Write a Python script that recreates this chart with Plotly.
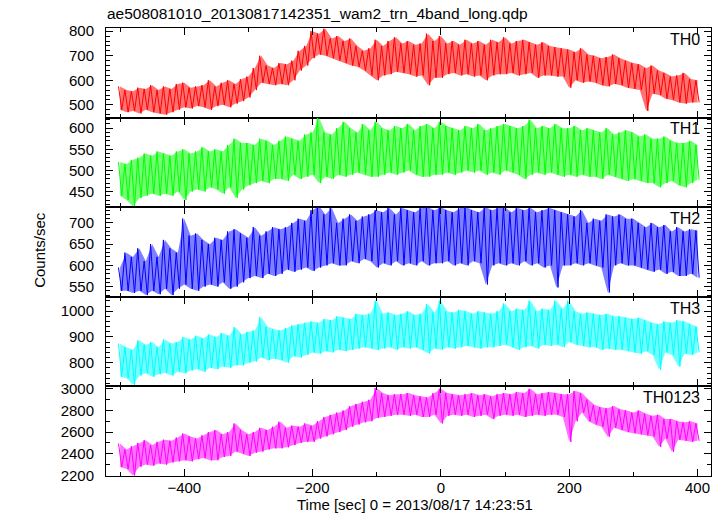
import plotly.graph_objects as go
from plotly.subplots import make_subplots

# ---- data (10-s bins, upper / lower excursion of each bin) ----
time_s = list(range(-500, 401, 10))

th0_hi = [575, 560, 555, 570, 565, 580, 560, 575, 565, 585,
          590, 570, 575, 580, 600, 575, 590, 600, 585, 605,
          615, 650, 700, 660, 650, 670, 665, 680, 720, 740,
          800, 790, 810, 770, 780, 760, 770, 740, 720, 730,
          765, 740, 760, 775, 750, 760, 745, 750, 790, 760,
          780, 750, 760, 745, 765, 750, 760, 745, 765, 755,
          775, 750, 760, 765, 755, 745, 755, 740, 735, 730,
          725, 715, 730, 705, 700, 690, 695, 705, 690, 680,
          670, 665, 650, 660, 640, 630, 615, 620, 630, 605,
          600]
th0_lo = [480, 470, 475, 465, 480, 470, 465, 460, 470, 480,
          490, 485, 495, 490, 480, 495, 500, 490, 505, 515,
          530, 560, 590, 585, 580, 585, 580, 600, 640, 660,
          690, 705, 700, 690, 680, 670, 660, 655, 640, 620,
          600, 620, 625, 635, 630, 625, 615, 620, 580, 610,
          610, 625, 630, 620, 625, 615, 620, 600, 620, 625,
          625, 630, 620, 625, 630, 610, 620, 620, 615, 615,
          570, 600, 590, 595, 590, 580, 575, 585, 580, 570,
          565, 560, 475, 545, 540, 525, 520, 510, 505, 510,
          510]

th1_hi = [520, 515, 525, 530, 540, 535, 545, 540, 535, 545,
          550, 540, 545, 555, 545, 550, 545, 560, 575, 565,
          565, 560, 575, 570, 560, 570, 580, 575, 570, 585,
          590, 625, 590, 585, 600, 615, 600, 590, 610, 595,
          615, 600, 595, 605, 600, 610, 595, 605, 610, 600,
          615, 605, 600, 595, 605, 600, 610, 595, 600, 605,
          610, 605, 600, 605, 620, 600, 605, 600, 610, 600,
          600, 605, 595, 600, 595, 590, 600, 585, 590, 595,
          590, 580, 585, 575, 575, 580, 570, 565, 565, 570,
          560]
th1_lo = [440, 430, 415, 435, 440, 445, 440, 445, 440, 450,
          430, 450, 455, 450, 460, 455, 445, 460, 435, 455,
          465, 470, 475, 470, 480, 480, 475, 490, 480, 485,
          490, 470, 485, 480, 490, 485, 490, 495, 490, 485,
          485, 490, 495, 490, 495, 500, 490, 485, 485, 490,
          490, 495, 490, 495, 500, 495, 500, 490, 495, 490,
          500, 495, 490, 480, 490, 495, 490, 495, 490, 485,
          490, 485, 490, 485, 485, 480, 490, 485, 480, 475,
          480, 475, 470, 470, 460, 470, 475, 465, 460, 470,
          478]

th2_hi = [595, 630, 620, 640, 610, 650, 620, 660, 640, 630,
          710, 670, 675, 660, 650, 665, 660, 680, 685, 675,
          665, 690, 670, 680, 690, 685, 690, 700, 710, 705,
          730, 740, 720, 735, 700, 710, 720, 705, 715, 720,
          730, 725, 735, 720, 735, 730, 725, 735, 737, 730,
          737, 730, 725, 735, 737, 730, 725, 737, 730, 735,
          737, 725, 735, 730, 735, 725, 730, 735, 730, 725,
          720, 715, 730, 700, 710, 705, 720, 715, 720, 710,
          710, 700, 690, 700, 690, 695, 680, 690, 680, 685,
          682]
th2_lo = [540, 540, 535, 540, 530, 540, 532, 545, 530, 545,
          555, 545, 540, 550, 555, 550, 560, 545, 550, 560,
          570, 575, 570, 580, 575, 580, 590, 585, 590, 595,
          587, 595, 600, 605, 600, 600, 610, 605, 615, 610,
          595, 605, 600, 610, 600, 605, 600, 610, 600, 605,
          605, 610, 600, 605, 600, 610, 605, 555, 600, 605,
          600, 605, 600, 610, 600, 605, 595, 600, 548, 600,
          600, 605, 600, 605, 600, 595, 536, 600, 605, 600,
          600, 595, 590, 585, 590, 580, 585, 575, 575, 580,
          571]

th3_hi = [874, 860, 850, 887, 870, 880, 860, 890, 875, 880,
          900, 890, 905, 895, 910, 900, 915, 905, 938, 910,
          920, 925, 977, 940, 930, 925, 935, 945, 950, 955,
          960, 955, 970, 965, 980, 975, 970, 990, 985, 990,
          1041, 990, 995, 985, 990, 1000, 985, 990, 1028, 995,
          1041, 1000, 995, 1005, 1000, 990, 1000, 995, 990, 1000,
          1030, 1000, 1010, 1005, 1041, 1000, 1010, 1005, 1041, 1010,
          1041, 1000, 990, 995, 990, 985, 990, 980, 980, 975,
          970, 975, 965, 955, 950, 960, 955, 965, 960, 950,
          940]
th3_lo = [746, 740, 714, 750, 759, 745, 755, 760, 750, 765,
          759, 770, 775, 765, 780, 775, 785, 780, 790, 790,
          800, 805, 820, 810, 815, 810, 800, 825, 820, 830,
          840, 835, 845, 840, 850, 845, 850, 855, 860, 855,
          849, 855, 860, 850, 860, 855, 860, 850, 836, 855,
          850, 860, 855, 860, 865, 860, 855, 860, 860, 865,
          870, 860, 850, 860, 865, 855, 870, 865, 870, 860,
          880, 870, 865, 860, 860, 850, 855, 850, 850, 845,
          840, 835, 845, 830, 772, 840, 830, 785, 835, 830,
          840]

th0123_hi = [2495, 2440, 2470, 2500, 2526, 2480, 2510, 2530, 2520, 2550,
             2588, 2560, 2540, 2570, 2600, 2620, 2580, 2600, 2680, 2620,
             2580, 2600, 2640, 2620, 2650, 2696, 2640, 2660, 2650, 2680,
             2660, 2700, 2740, 2760, 2780, 2800, 2840, 2860, 2880, 2898,
             3006, 2960, 2940, 2950, 2950, 2960, 2940, 2930, 2920, 2960,
             3000, 2960, 2950, 2940, 2950, 2960, 2940, 2950, 2930, 2950,
             2960, 2950, 2970, 2960, 3000, 2950, 2960, 2970, 2960, 2950,
             2950, 2980, 2960, 2900, 2850, 2830, 2820, 2840, 2810, 2800,
             2780, 2800, 2770, 2750, 2760, 2720, 2720, 2700, 2690, 2700,
             2680]
th0123_lo = [2278, 2260, 2200, 2280, 2300, 2290, 2310, 2300, 2320, 2330,
             2340, 2330, 2350, 2360, 2340, 2340, 2370, 2380, 2420, 2400,
             2380, 2410, 2420, 2440, 2450, 2450, 2460, 2480, 2500, 2510,
             2510, 2540, 2560, 2580, 2600, 2620, 2650, 2670, 2690, 2700,
             2730, 2740, 2750, 2760, 2760, 2750, 2760, 2740, 2740, 2760,
             2680, 2750, 2760, 2750, 2760, 2740, 2750, 2760, 2720, 2750,
             2760, 2750, 2760, 2740, 2750, 2760, 2750, 2760, 2760, 2740,
             2510, 2700, 2780, 2700, 2670, 2650, 2557, 2640, 2620, 2600,
             2590, 2580, 2570, 2560, 2464, 2540, 2417, 2530, 2520, 2510,
             2520]

band_names = ["TH0", "TH1", "TH2", "TH3", "TH0123"]
band_colors = ["#ff0000", "#00ff00", "#0000ff", "#00ffff", "#ff00ff"]
band_fills = ["rgba(255,0,0,0.55)", "rgba(0,255,0,0.55)", "rgba(0,0,255,0.5)",
              "rgba(0,255,255,0.55)", "rgba(255,0,255,0.55)"]
series_hi = [th0_hi, th1_hi, th2_hi, th3_hi, th0123_hi]
series_lo = [th0_lo, th1_lo, th2_lo, th3_lo, th0123_lo]

y_ranges = [[448, 813], [413, 625], [526, 737], [708, 1056], [2195, 3022]]
y_dticks = [100, 50, 50, 100, 200]
y_minor = [20, 10, 10, 20, 100]
x_range = [-522, 421]

FONT = "Liberation Sans, Arial, Helvetica, sans-serif"

fig = make_subplots(rows=5, cols=1, shared_xaxes=True, vertical_spacing=0)

for i in range(5):
    # light band between the upper and lower excursions (error-bar look)
    fig.add_trace(go.Scatter(x=time_s, y=series_hi[i], mode="lines",
                             line=dict(width=0, color=band_colors[i]),
                             showlegend=False, hoverinfo="skip"),
                  row=i + 1, col=1)
    fig.add_trace(go.Scatter(x=time_s, y=series_lo[i], mode="lines",
                             line=dict(width=0, color=band_colors[i]),
                             fill="tonexty", fillcolor=band_fills[i],
                             showlegend=False, hoverinfo="skip"),
                  row=i + 1, col=1)
    # the noisy light curve: alternate upper / lower excursion of each bin
    xs, ys = [], []
    for t, h, l in zip(time_s, series_hi[i], series_lo[i]):
        xs += [t - 2.5, t + 2.5]
        ys += [h, l]
    fig.add_trace(go.Scatter(x=xs, y=ys, mode="lines",
                             line=dict(color=band_colors[i], width=1),
                             showlegend=False, hoverinfo="skip"),
                  row=i + 1, col=1)
    fig.update_yaxes(range=y_ranges[i], dtick=y_dticks[i], tick0=0,
                     ticks="inside", ticklen=7, tickcolor="black",
                     showline=True, linecolor="black", linewidth=1, mirror="ticks",
                     showgrid=False, zeroline=False, automargin=False,
                     minor=dict(dtick=y_minor[i], ticks="inside", ticklen=4,
                                tickcolor="black", showgrid=False),
                     tickfont=dict(family=FONT, size=15, color="black"),
                     ticklabelstandoff=8,
                     row=i + 1, col=1)
    fig.update_xaxes(range=x_range, dtick=200, tick0=0,
                     ticks="inside", ticklen=7, tickcolor="black",
                     showline=True, linecolor="black", linewidth=1, mirror="ticks",
                     showgrid=False, zeroline=False, automargin=False,
                     minor=dict(dtick=100, ticks="inside", ticklen=4,
                                tickcolor="black", showgrid=False),
                     tickfont=dict(family=FONT, size=15, color="black"),
                     ticklabelstandoff=-2,
                     row=i + 1, col=1)
    yref = "y domain" if i == 0 else f"y{i + 1} domain"
    xref = "x domain" if i == 0 else f"x{i + 1} domain"
    fig.add_annotation(text=band_names[i], xref=xref, yref=yref,
                       x=0.985, y=0.875, xanchor="right", yanchor="middle",
                       showarrow=False,
                       font=dict(family=FONT, size=16, color="black"))

fig.add_annotation(text="Counts/sec", xref="paper", yref="paper",
                   x=-0.109, y=0.505, textangle=-90, showarrow=False,
                   xanchor="center", yanchor="middle",
                   font=dict(family=FONT, size=15, color="black"))
fig.add_annotation(text="Time [sec] 0 = 2013/08/17 14:23:51",
                   xref="paper", yref="paper", x=0.51, y=-0.064,
                   xanchor="center", yanchor="middle", showarrow=False,
                   font=dict(family=FONT, size=15, color="black"))

fig.update_layout(
    width=723, height=516,
    margin=dict(l=106, r=12, t=28, b=40, autoexpand=False),
    paper_bgcolor="white", plot_bgcolor="white",
    title=dict(text="ae508081010_20130817142351_wam2_trn_4band_long.qdp",
               x=107 / 723, xanchor="left", y=1 - 14 / 516, yanchor="middle",
               font=dict(family=FONT, size=15.5, color="black")),
)

fig.write_html("out.html",
               config={"displayModeBar": False},
               post_script="document.body.style.margin='0px';"
                           "document.body.style.overflow='hidden';")
